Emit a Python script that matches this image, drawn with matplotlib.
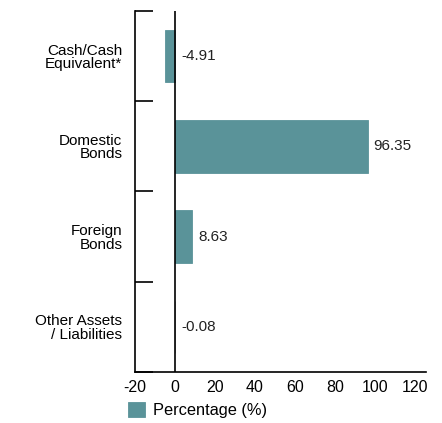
import matplotlib.pyplot as plt
import numpy as np

categories = ["Cash/Cash\nEquivalent*", "Domestic\nBonds", "Foreign\nBonds", "Other Assets\n/ Liabilities"]
values = [-4.91, 96.35, 8.63, -0.08]
labels = ["-4.91", "96.35", "8.63", "-0.08"]
xticks = [-20, 0, 20, 40, 60, 80, 100, 120]

plt.rcParams['font.family'] = ['Liberation Sans', 'DejaVu Sans']

fig = plt.figure(figsize=(4.42, 4.23), dpi=100)
ax = fig.add_axes([0.3054, 0.1206, 0.6584, 0.8534])

y = np.arange(len(categories))
colors = ['#5a9399', '#5a9399', '#5a9399', '#b0b0b0']
bars = ax.barh(y, values, height=0.58, color=colors, edgecolor=colors, linewidth=0.6,
               label='Percentage (%)', zorder=2)

for i, (v, lab) in enumerate(zip(values, labels)):
    xpos = max(v, 0) + 3
    ax.text(xpos, i, lab, va='center', ha='left', fontsize=11, color='#222222')

ax.axvline(0, color='black', lw=1.2, zorder=3)
ax.set_xlim(-20, 125.5)
ax.set_ylim(len(categories) - 0.5, -0.5)
ax.set_xticks(xticks)
ax.set_xticklabels([str(t) for t in xticks], fontsize=11.5)
ax.tick_params(axis='x', length=0, pad=6)

ax.set_yticks(y)
ax.set_yticklabels(categories, fontsize=11, linespacing=0.95)
ax.tick_params(axis='y', which='major', length=0, pad=9)
ax.set_yticks(np.arange(-0.5, len(categories), 1), minor=True)
ax.tick_params(axis='y', which='minor', length=13, width=1.2, direction='in')

for s in ['top', 'right']:
    ax.spines[s].set_visible(False)
for s in ['left', 'bottom']:
    ax.spines[s].set_linewidth(1.2)

handles = [bars.patches[0]]
fig.legend(handles, ['Percentage (%)'], loc='center left', bbox_to_anchor=(0.29, 0.031),
           frameon=False, fontsize=11.8, handlelength=1.0, handleheight=1.0, handletextpad=0.5,
           borderpad=0, borderaxespad=0)

fig.savefig('out.png', dpi=100)
